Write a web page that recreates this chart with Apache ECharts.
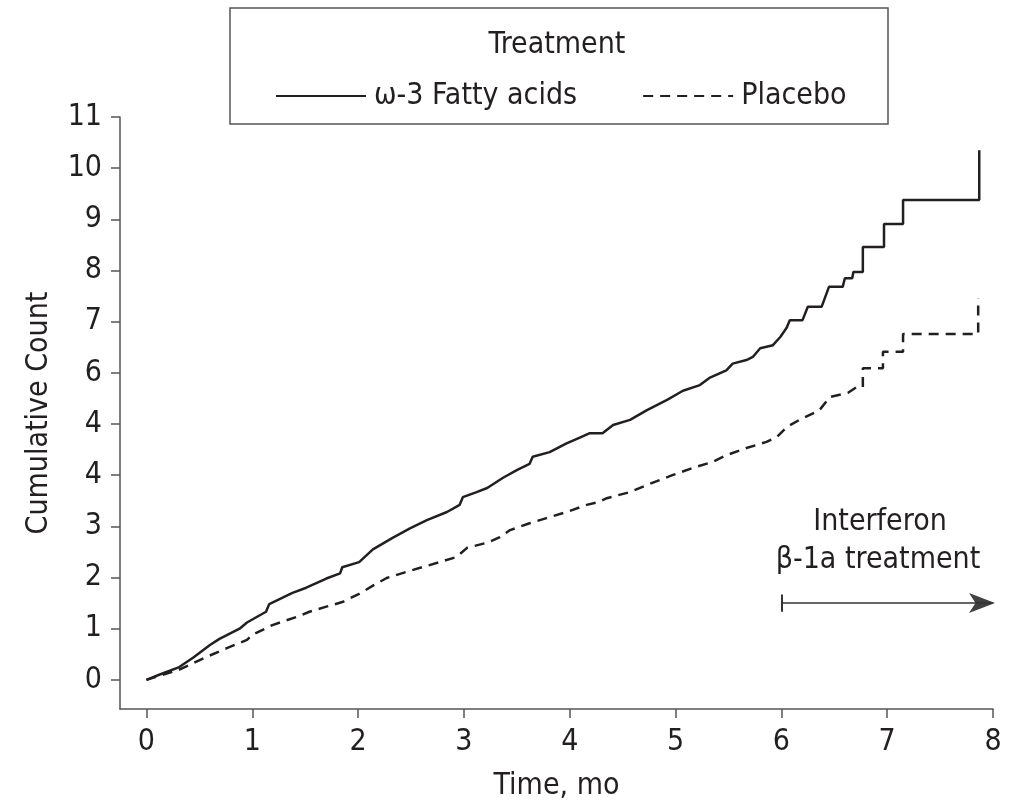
<!DOCTYPE html>
<html>
<head>
<meta charset="utf-8">
<script src="https://cdn.jsdelivr.net/npm/echarts@6/dist/echarts.min.js"></script>
<style>
	html, body { margin: 0; padding: 0; background: #fff; }
	#chart { width: 1020px; height: 807px; }
</style>
</head>
<body>
<div id="chart"></div>
<script>
// ω-3 fatty acids, cumulative count over time (mo)
const omegaTime = [0, 0.12, 0.31, 0.44, 0.6, 0.69, 0.88, 0.95, 1.13, 1.16, 1.38, 1.51, 1.7, 1.83, 1.85, 2.01, 2.14, 2.33, 2.49, 2.65, 2.84, 2.96, 2.99, 3.12, 3.22, 3.37, 3.5, 3.62, 3.65, 3.81, 3.97, 4.09, 4.19, 4.31, 4.41, 4.57, 4.73, 4.92, 5.07, 5.23, 5.32, 5.48, 5.54, 5.67, 5.73, 5.8, 5.92, 5.99, 6.05, 6.08, 6.2, 6.25, 6.38, 6.45, 6.58, 6.6, 6.67, 6.68, 6.77, 6.77, 6.97, 6.97, 7.15, 7.15, 7.87, 7.87];
const omegaCount = [0, 0.1, 0.25, 0.43, 0.68, 0.8, 1.0, 1.12, 1.33, 1.48, 1.7, 1.8, 1.98, 2.08, 2.2, 2.3, 2.55, 2.78, 2.96, 3.12, 3.28, 3.42, 3.57, 3.67, 3.75, 3.95, 4.1, 4.22, 4.36, 4.45, 4.62, 4.73, 4.82, 4.82, 4.98, 5.08, 5.27, 5.47, 5.65, 5.76, 5.9, 6.05, 6.18, 6.25, 6.31, 6.48, 6.54, 6.7, 6.88, 7.03, 7.03, 7.29, 7.29, 7.68, 7.68, 7.85, 7.85, 7.97, 7.97, 8.46, 8.46, 8.91, 8.91, 9.38, 9.38, 10.35];

// placebo
const placeboTime = [0, 0.31, 0.57, 0.76, 0.95, 1.0, 1.19, 1.42, 1.54, 1.7, 1.85, 2.01, 2.14, 2.27, 2.52, 2.77, 2.93, 3.03, 3.22, 3.34, 3.43, 3.62, 3.78, 3.97, 4.16, 4.28, 4.35, 4.57, 4.78, 4.97, 5.16, 5.35, 5.48, 5.67, 5.86, 5.96, 6.05, 6.17, 6.36, 6.46, 6.63, 6.71, 6.77, 6.77, 6.96, 6.96, 7.15, 7.15, 7.86, 7.86];
const placeboCount = [0, 0.2, 0.45, 0.62, 0.78, 0.88, 1.07, 1.23, 1.33, 1.43, 1.52, 1.68, 1.84, 1.99, 2.15, 2.3, 2.4, 2.58, 2.68, 2.79, 2.92, 3.06, 3.16, 3.28, 3.42, 3.48, 3.55, 3.67, 3.85, 4.0, 4.14, 4.26, 4.39, 4.53, 4.65, 4.75, 4.94, 5.08, 5.27, 5.53, 5.61, 5.72, 5.72, 6.09, 6.09, 6.41, 6.41, 6.76, 6.76, 7.46];

const xTicks = [0, 1, 2, 3, 4, 5, 6, 7, 8];
const yTicks = [0, 1, 2, 3, 4, 5, 6, 7, 8, 9, 10, 11];
// tick labels as printed in the figure
const yTickLabels = ["0", "1", "2", "3", "4", "4", "6", "7", "8", "9", "10", "11"];

// interferon arrow: start, end, height
const arrowStart = 6;
const arrowEnd = 8;
const arrowY = 1.5;

const FONT = "'Liberation Sans Narrow', 'DejaVu Sans Condensed', sans-serif";
const INK = "#231f20";

function pairs(xs, ys) {
	return xs.map(function(x, i) { return [x, ys[i]]; });
}

const chart = echarts.init(document.getElementById("chart"));

const option = {
	animation: false,
	textStyle: { fontFamily: FONT, color: INK },
	grid: { left: 120, right: 27, top: 117, bottom: 98 },
	legend: {
		left: 270,
		top: 76,
		itemWidth: 90,
		itemHeight: 14,
		itemGap: 65,
		itemStyle: { opacity: 0 },
		textStyle: { fontFamily: FONT, fontSize: 30, color: INK, padding: [0, 0, 0, 3] },
		data: ["ω-3 Fatty acids", "Placebo"]
	},
	graphic: [
		{
			type: "rect",
			shape: { x: 230, y: 8, width: 658, height: 116 },
			style: { fill: "none", stroke: "#555", lineWidth: 1.5 }
		},
		{
			type: "text",
			x: 557, y: 45,
			style: { text: "Treatment", font: "30px " + FONT, fill: INK, align: "center", verticalAlign: "middle" }
		},
		{
			type: "text",
			x: 880, y: 522,
			style: { text: "Interferon", font: "30px " + FONT, fill: INK, align: "center", verticalAlign: "middle" }
		},
		{
			type: "text",
			x: 878, y: 560,
			style: { text: "β-1a treatment", font: "30px " + FONT, fill: INK, align: "center", verticalAlign: "middle" }
		}
	],
	xAxis: {
		type: "value",
		min: -0.25,
		max: 8,
		name: "Time, mo",
		nameLocation: "middle",
		nameGap: 62,
		nameTextStyle: { fontFamily: FONT, fontSize: 30, color: INK },
		axisLine: { onZero: false, lineStyle: { color: "#555", width: 1.5 } },
		axisTick: { show: true, length: 9, customValues: xTicks, lineStyle: { color: "#555", width: 1.5 } },
		axisLabel: { customValues: xTicks, margin: 18, fontFamily: FONT, fontSize: 30, color: INK },
		splitLine: { show: false }
	},
	yAxis: {
		type: "value",
		min: -0.57,
		max: 11,
		name: "Cumulative Count",
		nameLocation: "middle",
		nameGap: 66,
		nameTextStyle: { fontFamily: FONT, fontSize: 30, color: INK },
		axisLine: { show: true, onZero: false, lineStyle: { color: "#555", width: 1.5 } },
		axisTick: { show: true, length: 9, customValues: yTicks, lineStyle: { color: "#555", width: 1.5 } },
		axisLabel: {
			customValues: yTicks,
			margin: 18,
			fontFamily: FONT,
			fontSize: 30,
			color: INK,
			formatter: function(v) {
				const i = yTicks.indexOf(Math.round(v));
				return i >= 0 ? yTickLabels[i] : "";
			}
		},
		splitLine: { show: false }
	},
	series: [
		{
			name: "ω-3 Fatty acids",
			type: "line",
			symbol: "none",
			clip: false,
			lineStyle: { color: INK, width: 2.5, type: "solid" },
			itemStyle: { color: INK },
			data: pairs(omegaTime, omegaCount),
			markLine: {
				silent: true,
				symbol: ["none", "none"],
				label: { show: false },
				lineStyle: { color: "#333", width: 1.5, type: "solid" },
				emphasis: { disabled: true },
				data: [
					[{ coord: [arrowStart, arrowY] }, { coord: [arrowEnd, arrowY] }]
				]
			}
		},
		{
			name: "Placebo",
			type: "line",
			symbol: "none",
			clip: false,
			lineStyle: { color: INK, width: 2.5, type: [10, 7] },
			itemStyle: { color: INK },
			data: pairs(placeboTime, placeboCount),
			markLine: {
				silent: true,
				symbol: ["none", "none"],
				label: { show: false },
				lineStyle: { color: "#333", width: 2, type: "solid" },
				emphasis: { disabled: true },
				data: [
					[{ coord: [arrowStart, arrowY - 0.17] }, { coord: [arrowStart, arrowY + 0.17] }]
				]
			}
		},
		{
			// arrow head of the interferon annotation
			name: "arrowHead",
			type: "scatter",
			silent: true,
			clip: false,
			symbol: "arrow",
			symbolSize: [15, 26],
			symbolRotate: -90,
			symbolOffset: [2, 0],
			itemStyle: { color: "#111" },
			data: [[arrowEnd, arrowY]]
		}
	]
};

chart.setOption(option);
</script>
</body>
</html>
